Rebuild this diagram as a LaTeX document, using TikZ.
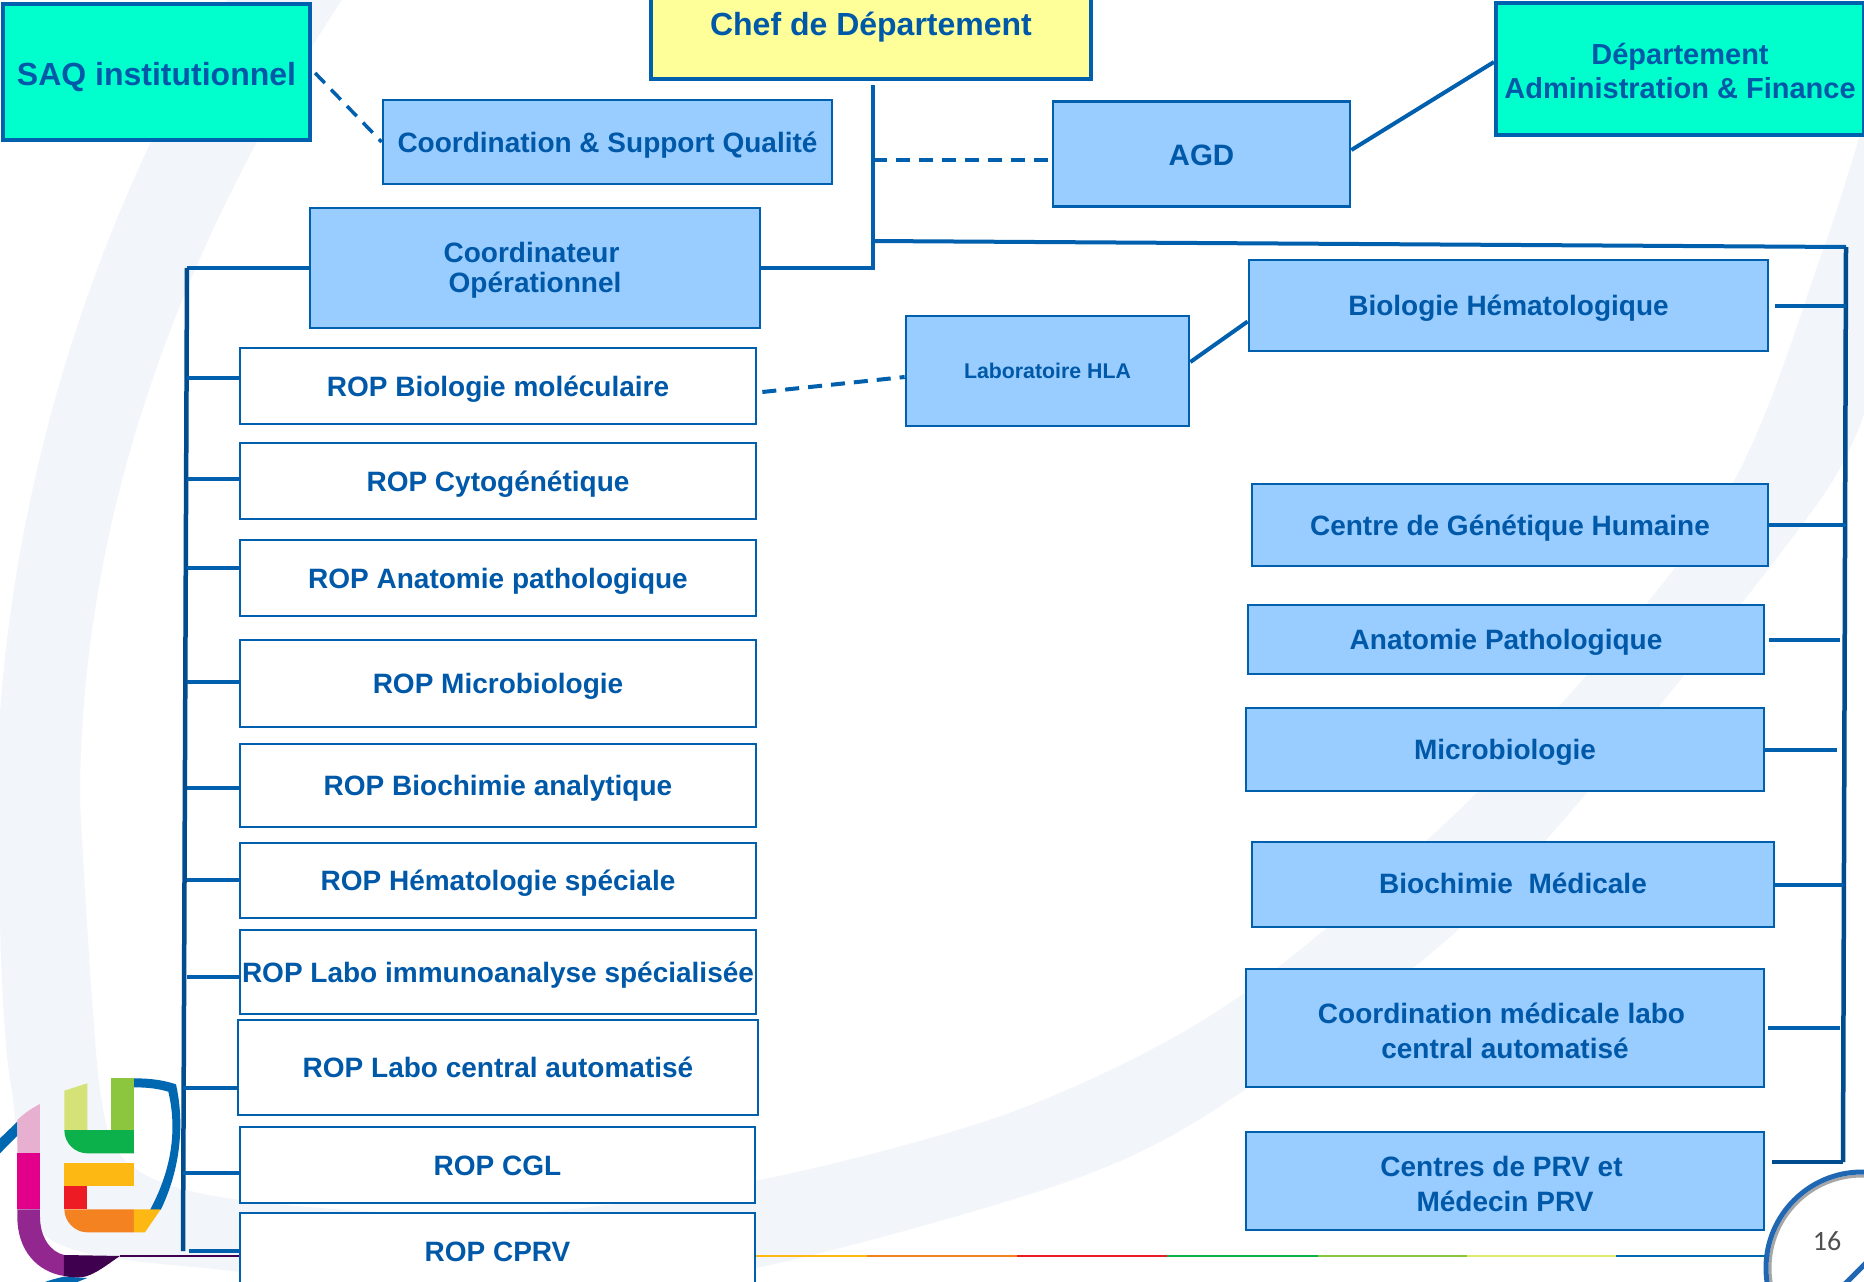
\documentclass[tikz,border=0pt]{standalone}
\usepackage{fontspec}
\setmainfont{Liberation Sans}
\newfontfamily\pagefont{Carlito}
\usepackage{tikz}
\usetikzlibrary{positioning,calc}
\definecolor{chuline}{HTML}{0060AD}
\definecolor{chudark}{HTML}{004C8E}
\definecolor{chutext}{HTML}{0059A8}
\definecolor{chublue}{HTML}{99CCFF}
\definecolor{chuteal}{HTML}{00FFCC}
\definecolor{chuyellow}{HTML}{FFFF99}
\definecolor{chuband}{HTML}{F2F5FA}
\definecolor{logoblue}{HTML}{0067B1}

\begin{document}
\begin{tikzpicture}[x=1pt,y=-1pt,
    basebox/.style={draw=chuline,rectangle,line width=2.7pt,inner sep=0pt,align=center,text=chutext,font=\bfseries\fontsize{28}{34.5}\selectfont},
    oneline/.style={text height=26pt,text depth=6pt},
    ropbox/.style={basebox,oneline,fill=white,minimum width=516pt},
    servbox/.style={basebox,fill=chublue},
    headbox/.style={basebox,line width=4.2pt,font=\bfseries\fontsize{32}{34.5}\selectfont},
    link/.style={chuline,line width=4pt},
    buslink/.style={chudark,line width=4.5pt},
    dashlink/.style={link,dash pattern=on 14pt off 9pt}]
    \clip (0,0) rectangle (1864,1282);
    \fill[white] (0,0) rectangle (1864,1282);
    % pale band behind the chart
    \fill[chuband] (345,-5) .. controls (130,320) and (80,600) .. (80,802)
        -- plot[smooth] coordinates {(80,802) (100,1090) (133,1167) (240,1200) (500,1215) (760,1180) (1020,1109) (1240,996) (1500,770) (1723,500) (1823,250) (1870,100)}
        -- plot[smooth] coordinates {(1880,350) (1820,500) (1500,890) (1240,1093) (1072,1180) (756,1268) (500,1298) (240,1272) (47,1237) (12,1092) (2,980) (-3,800)}
        .. controls (-3,600) and (50,290) .. (230,-5) -- cycle;
    % footer line
    \draw[line width=2pt,color={rgb,255:red,63;green,0;blue,80}] (120,1256) -- (239,1256);
    \draw[line width=2.5pt,color={rgb,255:red,253;green,184;blue,19}] (756,1256) -- (867,1256);
    \draw[line width=2.5pt,color={rgb,255:red,245;green,130;blue,32}] (867,1256) -- (1017,1256);
    \draw[line width=2.5pt,color={rgb,255:red,237;green,28;blue,36}] (1017,1256) -- (1167,1256);
    \draw[line width=2.5pt,color={rgb,255:red,13;green,177;blue,75}] (1167,1256) -- (1318,1256);
    \draw[line width=2.5pt,color={rgb,255:red,140;green,198;blue,63}] (1318,1256) -- (1467,1256);
    \draw[line width=2.5pt,color={rgb,255:red,225;green,232;blue,110}] (1467,1256) -- (1616,1256);
    \draw[line width=2.5pt,logoblue] (1616,1256) -- (1770,1256);
    % page number disc
    \fill[white,draw=black!35,line width=3pt] (1862,1268) circle (92);
    \draw[color={rgb,255:red,31;green,102;blue,179},line width=5pt] (1862,1268) circle (96);
    \draw[color={rgb,255:red,31;green,102;blue,179},line width=5pt] (1845,1284) -- (1866,1263);
    \node[inner sep=0pt,text={rgb,255:red,80;green,80;blue,80},font=\pagefont\fontsize{28}{28}\selectfont](pagenum) at (1827,1241){16};
    % logo
    \begin{scope}[shift={(0,1040)},x=0.3333pt,y=-0.3333pt]
        \fill[logoblue] (402,115) .. controls (450,115) and (490,120) .. (528,133) .. controls (550,230) and (550,370) .. (482,510) -- (450,510) .. controls (520,380) and (530,260) .. (505,155) .. controls (470,145) and (440,142) .. (402,142) -- cycle;
        \fill[logoblue] (-5,300) -- (52,245) -- (52,287) -- (-5,345) -- cycle;
        \fill[logoblue] (125,730) .. controls (150,720) and (170,715) .. (192,710) -- (262,714) -- (222,730) -- cycle;
        \fill[color={rgb,255:red,212;green,226;blue,119}] (193,152) -- (262,130) -- (262,270) -- (193,270) -- cycle;
        \fill[color={rgb,255:red,140;green,198;blue,63}] (332,115) -- (402,115) -- (402,270) -- (332,270) -- cycle;
        \fill[color={rgb,255:red,13;green,177;blue,75}] (193,270) -- (402,270) -- (402,340) -- (262,340) .. controls (225,340) and (193,310) .. (193,270) -- cycle;
        \fill[color={rgb,255:red,253;green,184;blue,19}] (193,368) rectangle (402,438);
        \fill[color={rgb,255:red,237;green,28;blue,36}] (193,438) rectangle (262,508);
        \fill[color={rgb,255:red,245;green,130;blue,32}] (193,508) -- (402,508) -- (402,577) -- (262,577) .. controls (225,577) and (193,545) .. (193,508) -- cycle;
        \fill[color={rgb,255:red,253;green,184;blue,19}] (402,508) -- (482,508) -- (435,577) -- (402,577) -- cycle;
        \fill[color={rgb,255:red,232;green,176;blue,208}] (52,240) .. controls (72,220) and (95,205) .. (120,192) -- (120,340) -- (52,340) -- cycle;
        \fill[color={rgb,255:red,226;green,0;blue,138}] (52,340) rectangle (120,508);
        \fill[color={rgb,255:red,146;green,39;blue,143}] (52,508) -- (120,508) -- (120,530) .. controls (120,590) and (150,635) .. (192,645) -- (192,708) .. controls (110,695) and (52,630) .. (52,530) -- cycle;
        \fill[color={rgb,255:red,63;green,0;blue,80}] (192,645) -- (360,648) .. controls (320,675) and (290,700) .. (255,710) .. controls (235,714) and (210,712) .. (192,708) -- cycle;
    \end{scope}
    % top of the chart
    \node[headbox,fill=chuteal,minimum width=307pt,minimum height=136pt,text height=32pt,text depth=5pt](saq) at (156.5,72){SAQ institutionnel};
    \node[headbox,fill=chuyellow,minimum width=440pt,minimum height=108pt,oneline](chef) at (871,25){Chef de Département};
    \node[headbox,fill=chuteal,minimum width=368pt,minimum height=132pt,font=\bfseries\fontsize{29}{34.5}\selectfont](dept) at (1680,69){\rule{0pt}{25pt}Département\\Administration \& Finance};
    \node[servbox,oneline,minimum width=449pt,minimum height=84pt](coordqual) at (607.5,142){Coordination \& Support Qualité};
    \node[servbox,minimum width=297pt,minimum height=105pt,font=\bfseries\fontsize{29.5}{34}\selectfont,text height=26pt,text depth=3pt](agd) at (1201.5,154){AGD};
    \node[servbox,minimum width=450pt,minimum height=120pt,font=\bfseries\fontsize{28}{30}\selectfont](coordop) at (535,268){\rule{0pt}{24pt}Coordinateur\hspace*{7pt}\\Opérationnel};
    \node[servbox,minimum width=283pt,minimum height=110pt,font=\bfseries\fontsize{21.3}{24}\selectfont,text height=17pt,text depth=3pt](hla) at (1047.5,371){Laboratoire HLA};
    % ROP column
    \node[ropbox,minimum height=76pt](ropbio) at (498,386){ROP Biologie moléculaire};
    \node[ropbox,minimum height=76pt,below=16.3pt of ropbio](ropcyto){ROP Cytogénétique};
    \node[ropbox,minimum height=76pt,below=18.3pt of ropcyto](ropana){ROP Anatomie pathologique};
    \node[ropbox,minimum height=87pt,below=21.3pt of ropana](ropmicro){ROP Microbiologie};
    \node[ropbox,minimum height=83pt,below=14.3pt of ropmicro](ropbioch){ROP Biochimie analytique};
    \node[ropbox,minimum height=75pt,below=13.3pt of ropbioch](rophem){ROP Hématologie spéciale};
    \node[ropbox,minimum height=84pt,below=9.3pt of rophem](ropimm){ROP Labo immunoanalyse spécialisée};
    \node[ropbox,minimum width=520pt,minimum height=95pt,below=3.3pt of ropimm](ropauto){ROP Labo central automatisé};
    \node[ropbox,minimum width=515pt,minimum height=76pt,below=9.3pt of ropauto,xshift=-0.5pt](ropcgl){ROP CGL};
    \node[ropbox,minimum width=515pt,minimum height=83pt,below=7.3pt of ropcgl,text depth=12pt](ropcprv){ROP CPRV};
    % service column
    \node[servbox,oneline,minimum width=519pt,minimum height=91pt](bio) at (1508.5,305.5){Biologie Hématologique};
    \node[servbox,oneline,minimum width=516pt,minimum height=82pt](genet) at (1510,525){Centre de Génétique Humaine};
    \node[servbox,oneline,minimum width=516pt,minimum height=69pt,below=36.3pt of genet,xshift=-4pt](anapath){Anatomie Pathologique};
    \node[servbox,oneline,minimum width=518pt,minimum height=83pt,below=31.3pt of anapath,xshift=-1pt](micro){Microbiologie};
    \node[servbox,oneline,minimum width=522pt,minimum height=85pt,below=48.3pt of micro,xshift=8pt,text depth=9pt](bioch){Biochimie~~Médicale};
    \node[servbox,minimum width=518pt,minimum height=118pt,below=39.3pt of bioch,xshift=-8pt](coordlabo){\rule{0pt}{26pt}Coordination médicale labo\hspace*{7pt}\\central automatisé};
    \node[servbox,minimum width=518pt,minimum height=98pt,below=42.3pt of coordlabo](prv){\rule{0pt}{26pt}Centres de PRV et\hspace*{7pt}\\Médecin PRV};
    % bus ends
    \coordinate (chefdash) at (873,160);
    \coordinate (agddash) at (1053,160);
    \coordinate (chefbus) at (873,241);
    \coordinate (rbustop) at (1846,247);
    \coordinate (rbusbot) at (1843,1162);
    \coordinate (lbustop) at (187,268);
    \coordinate (lbusbot) at (183,1251);
    % links at the top
    \draw[dashlink,line width=3.5pt] ([yshift=-1pt]saq.east) ++(3pt,0) -- (coordqual.west);
    \draw[link] ([yshift=-4pt]chef.south) ++(2pt,0) |- (coordop.east);
    \draw[dashlink] (chefdash) -- (agddash);
    \draw[link] ([yshift=4pt]agd.east) -- ([yshift=7pt]dept.west);
    \draw[dashlink] ([yshift=-6pt,xshift=5pt]ropbio.east) -- ([yshift=-6pt]hla.west);
    \draw[link] ([yshift=9pt]hla.east) -- ([yshift=-16pt]bio.west);
    % left bus
    \draw[link] (coordop.west) -- (lbustop);
    \draw[buslink] (lbustop) -- (lbusbot);
    \draw[link] (ropbio.west |- 0,378) -- (lbustop |- 0,378);
    \draw[link] (ropcyto.west |- 0,479) -- (lbustop |- 0,479);
    \draw[link] (ropana.west |- 0,568) -- (lbustop |- 0,568);
    \draw[link] (ropmicro.west |- 0,682) -- (lbustop |- 0,682);
    \draw[link] (ropbioch.west |- 0,788) -- (lbustop |- 0,788);
    \draw[link] (rophem.west |- 0,880) -- (lbustop |- 0,880);
    \draw[link] (ropimm.west |- 0,977) -- (lbustop |- 0,977);
    \draw[link] (ropauto.west |- 0,1088) -- (lbusbot |- 0,1088);
    \draw[link] (ropcgl.west |- 0,1173) -- (lbusbot |- 0,1173);
    \draw[link] (ropcprv.west |- 0,1251) -- ([xshift=6pt]lbusbot);
    % right bus
    \draw[link] (chefbus) -- (rbustop);
    \draw[buslink] (rbustop) -- (rbusbot);
    \draw[link] ([xshift=6pt]bio.east) -- (bio.east -| rbustop);
    \draw[link] (genet.east) -- (genet.east -| rbustop);
    \draw[link] (anapath.east) ++(4pt,0) -- ([xshift=-3pt]anapath.east -| rbusbot);
    \draw[link] (micro.east) -- ([xshift=-6pt]micro.east -| rbusbot);
    \draw[link] (bioch.east) -- (bioch.east -| rbusbot);
    \draw[link] ([xshift=3pt]coordlabo.east) -- ([xshift=-3pt]coordlabo.east -| rbusbot);
    \draw[buslink] ([xshift=7pt]prv.east |- rbusbot) -- (rbusbot);
\end{tikzpicture}
\end{document}
